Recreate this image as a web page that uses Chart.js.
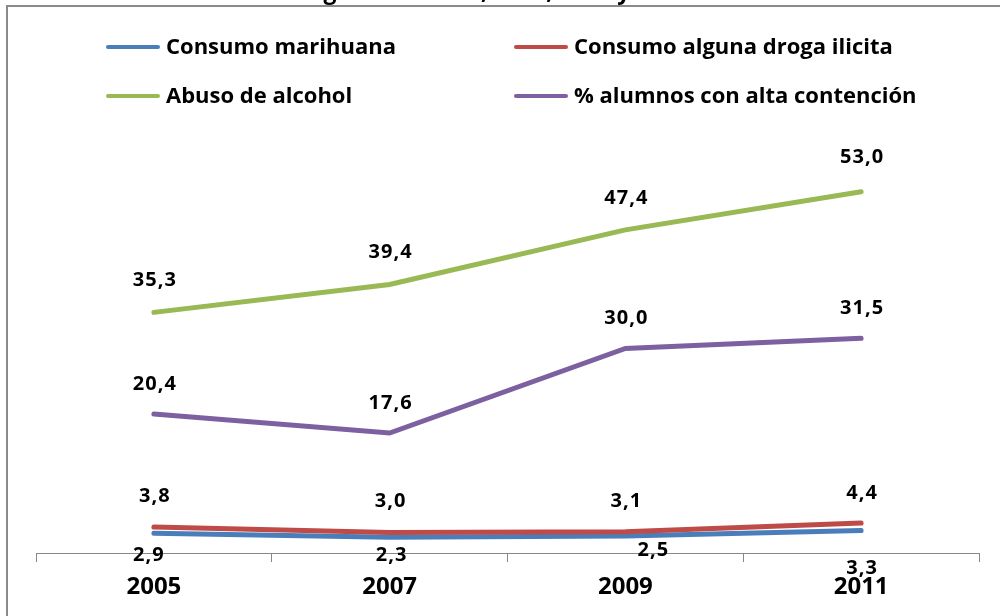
<!DOCTYPE html>
<html>
<head>
<meta charset="utf-8">
<script src="https://cdn.jsdelivr.net/npm/chart.js@4"></script>
<style>
  body { margin: 0; background: #fff; overflow: hidden; }
  #wrap { position: relative; width: 1000px; height: 616px; overflow: hidden; }
  #frame { position: absolute; left: 6px; top: 5px; width: 1100px; height: 700px;
           border-left: 2px solid #8a8a8a; border-top: 2px solid #8a8a8a; }
  #myCanvas { position: absolute; left: 0; top: 0; }
  .leg { position: absolute; font: bold 22px "Open Sans"; color: #000; white-space: nowrap; }
  .leg span { display: inline-block; width: 54px; height: 4px; border-radius: 2px;
              vertical-align: middle; margin-right: 6px; position: relative; top: -1px; }
</style>
</head>
<body>
<div id="wrap">
  <div id="frame"></div>
  <canvas id="myCanvas" width="1000" height="616"></canvas>
  <div id="legend"></div>
</div>
<script>
let title = "Tendencias de consumo de drogas años 2005, 2007, 2009 y 2011"

let years = ["2005", "2007", "2009", "2011"]
let names = ["Consumo marihuana", "Consumo alguna droga ilicita", "Abuso de alcohol", "% alumnos con alta contención"]
let marihuana = [2.9, 2.3, 2.5, 3.3]
let drogaIlicita = [3.8, 3.0, 3.1, 4.4]
let alcohol = [35.3, 39.4, 47.4, 53.0]
let contencion = [20.4, 17.6, 30.0, 31.5]

let colors = ["#4A7EBB", "#BE4B48", "#98B954", "#7D60A0"]
// where each value label sits relative to its point
let labelDx = [[-6, 1, 27, 0], [0, 0, 0, 0], [0, 0, 0, 0], [0, 0, 0, 0]]
let labelDy = [[22, 18, 14, 38], [-31, -31, -31, -30], [-32, -32, -32, -34], [-30, -30, -30, -30]]

let legendPos = [[106, 46], [514, 46], [106, 95], [514, 95]]
let legend = document.querySelector("#legend")
names.forEach(function (n, i) {
    let d = document.createElement("div")
    d.className = "leg"
    d.style.left = legendPos[i][0] + "px"
    d.style.top = (legendPos[i][1] - 16) + "px"
    d.innerHTML = '<span style="background:' + colors[i] + '"></span>' + n
    legend.appendChild(d)
})

let valueLabels = {
    id: "valueLabels",
    afterDatasetsDraw(chart) {
        let c = chart.ctx
        c.save()
        c.font = "bold 20px 'Open Sans'"
        c.letterSpacing = "1px"
        c.fillStyle = "#000"
        c.textAlign = "center"
        c.textBaseline = "middle"
        chart.data.datasets.forEach(function (ds, d) {
            let meta = chart.getDatasetMeta(d)
            meta.data.forEach(function (pt, i) {
                let txt = ds.data[i].toFixed(1).replace(".", ",")
                c.fillText(txt, pt.x + labelDx[d][i] + 1, pt.y + labelDy[d][i])
            })
        })
        c.restore()
    }
}

let topTitle = {
    id: "topTitle",
    afterDraw(chart) {
        let c = chart.ctx
        c.save()
        c.font = "bold 23px 'Open Sans'"
        c.fillStyle = "#000"
        c.textBaseline = "alphabetic"
        let pre = title.slice(0, title.indexOf(","))
        let x = 481 - c.measureText(pre).width
        c.fillText(title, x, -1)
        c.restore()
    }
}

let ctx = document.querySelector("#myCanvas").getContext("2d")
let series = [marihuana, drogaIlicita, alcohol, contencion]

let chart = new Chart(ctx, {
    type: "line",
    data: {
        labels: years,
        datasets: series.map(function (s, i) {
            return {
                label: names[i],
                data: s,
                borderColor: colors[i],
                backgroundColor: colors[i],
                borderWidth: 5,
                borderCapStyle: "round",
                pointRadius: 0,
                tension: 0,
                order: 3 - i
            }
        })
    },
    options: {
        responsive: false,
        animation: false,
        layout: { padding: { left: 36, right: 21, top: 144, bottom: 0 } },
        plugins: {
            legend: { display: false },
            tooltip: { enabled: false }
        },
        scales: {
            x: {
                offset: true,
                grid: { offset: true, drawOnChartArea: false, drawTicks: true, tickLength: 9, color: "#888", lineWidth: 1 },
                border: { display: true, color: "#888", width: 1 },
                ticks: { color: "#000", padding: 11, font: { family: "Open Sans", size: 24, weight: "bold" } },
                afterFit: function (s) { s.height = 63 }
            },
            y: { display: false, min: 0, max: 60 }
        }
    },
    plugins: [valueLabels, topTitle]
})
</script>
</body>
</html>
